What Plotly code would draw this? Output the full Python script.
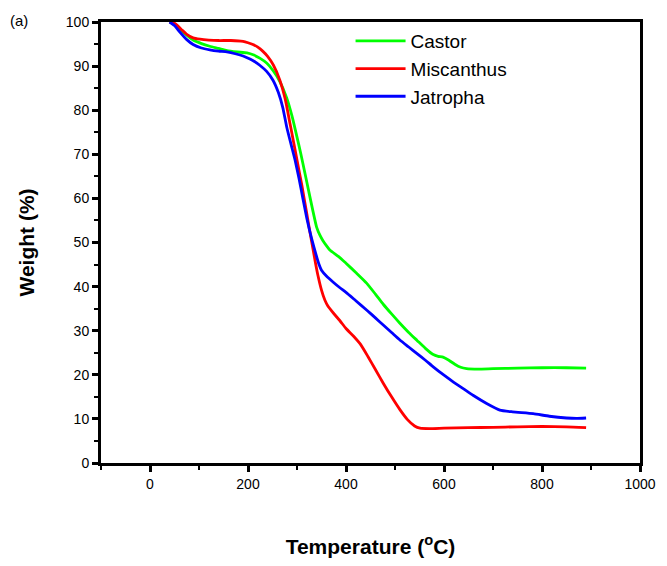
import plotly.graph_objects as go

castor_x = [40, 50, 61, 75, 88, 105, 122, 140, 157, 178, 198, 212, 224, 238, 251, 265, 279, 290, 300, 308, 316, 324, 332, 340, 347, 353, 360, 367, 385, 400, 420, 442, 460, 476, 493, 510, 528, 545, 562, 578, 588, 598, 610, 622, 634, 646, 670, 700, 750, 800, 850, 890]
castor_y = [100, 99.6, 98.4, 97, 95.9, 95.1, 94.5, 94, 93.5, 93.2, 93, 92.5, 91.8, 90.7, 89, 86.5, 82.8, 78.6, 73.9, 70, 65.8, 61.6, 57.4, 53.5, 51.6, 50.4, 49.3, 48.3, 46.8, 45.3, 43.2, 40.8, 38.3, 36, 33.8, 31.7, 29.6, 27.8, 26, 24.6, 24.2, 24, 23.3, 22.4, 21.7, 21.4, 21.3, 21.4, 21.5, 21.6, 21.6, 21.5]

misc_x = [40, 48, 55, 65, 75, 88, 102, 120, 140, 165, 190, 200, 210, 220, 230, 240, 252, 265, 276, 286, 293, 300, 310, 320, 327, 333, 338, 343, 350, 357, 363, 375, 388, 400, 415, 429, 445, 460, 476, 493, 510, 525, 540, 551, 570, 600, 650, 700, 750, 800, 850, 890]
misc_y = [100, 99.8, 99.3, 98.2, 97.2, 96.4, 96.1, 95.9, 95.8, 95.8, 95.6, 95.3, 94.9, 94.3, 93.4, 92.2, 90.2, 86.8, 82.5, 76.8, 72.8, 68.7, 62.9, 56.5, 52, 48.3, 45.2, 42.4, 39.2, 36.9, 35.6, 33.9, 32.2, 30.5, 28.8, 27, 24.1, 21.2, 18.1, 15, 12.1, 9.9, 8.4, 7.9, 7.8, 7.9, 8, 8.1, 8.2, 8.3, 8.2, 8.0]

jat_x = [40, 50, 61, 75, 88, 105, 122, 140, 157, 174, 190, 204, 214, 224, 238, 251, 262, 271, 279, 288, 296, 304, 312, 320, 330, 340, 345, 350, 360, 374, 387, 400, 420, 442, 460, 476, 493, 510, 528, 545, 562, 578, 600, 620, 640, 660, 687, 714, 740, 782, 815, 850, 870, 890]
jat_y = [100, 99.2, 97.7, 96, 94.9, 94.1, 93.7, 93.4, 93.2, 92.8, 92.3, 91.6, 91, 90.2, 88.8, 86.8, 84, 80.6, 76.2, 72.2, 68.7, 64.6, 60, 55.5, 50.8, 46.8, 45, 43.7, 42.4, 41, 39.8, 38.7, 36.8, 34.7, 32.9, 31.3, 29.6, 27.9, 26.3, 24.8, 23.3, 21.8, 19.9, 18.3, 16.8, 15.3, 13.5, 12, 11.6, 11.2, 10.6, 10.2, 10.1, 10.2]

series = [
    ("Castor", castor_x, castor_y, "#00ff00"),
    ("Miscanthus", misc_x, misc_y, "#ff0000"),
    ("Jatropha", jat_x, jat_y, "#0000ff"),
]

FONT = "Arial, Liberation Sans, sans-serif"

fig = go.Figure()
for name, xs, ys, col in series:
    fig.add_trace(go.Scatter(x=xs, y=ys, name=name, mode="lines",
                             line=dict(color=col, width=2.8, shape="spline", smoothing=0.5)))

axis_common = dict(
    showgrid=False, zeroline=False, showline=True, linecolor="black", linewidth=3,
    mirror=True, ticks="outside", tickcolor="black", tickwidth=3, ticklen=6,
    tickfont=dict(family=FONT, size=14, color="black"),
)

fig.update_xaxes(
    range=[-100, 1000], tickmode="array", tickvals=[0, 200, 400, 600, 800, 1000],
    minor=dict(tickvals=[-100, 100, 300, 500, 700, 900], ticks="outside", ticklen=4, tickwidth=2, tickcolor="black"),
    title=dict(text="<b>Temperature (<sup>o</sup>C)</b>", font=dict(family=FONT, size=21, color="black"), standoff=49),
    **axis_common,
)
fig.update_yaxes(
    range=[0, 100], tickmode="array", tickvals=list(range(0, 101, 10)),
    minor=dict(tickvals=list(range(5, 100, 10)), ticks="outside", ticklen=4, tickwidth=2, tickcolor="black"),
    title=dict(text="<b>Weight (%)</b>", font=dict(family=FONT, size=21, color="black"), standoff=26),
    **axis_common,
)

fig.add_annotation(text="(a)", xref="paper", yref="paper", x=-0.172, y=1.004, xanchor="left", yanchor="middle",
                   showarrow=False, font=dict(family=FONT, size=15, color="black"))

fig.update_layout(
    width=667, height=566,
    margin=dict(l=101, r=27, t=22, b=103),
    paper_bgcolor="white", plot_bgcolor="white",
    font=dict(family=FONT, color="black"),
    legend=dict(x=0.463, y=1.0, xanchor="left", yanchor="top", bgcolor="rgba(0,0,0,0)",
                font=dict(family=FONT, size=19, color="black"), tracegroupgap=0, itemwidth=50),
    showlegend=True,
)

fig.write_html("out.html")
